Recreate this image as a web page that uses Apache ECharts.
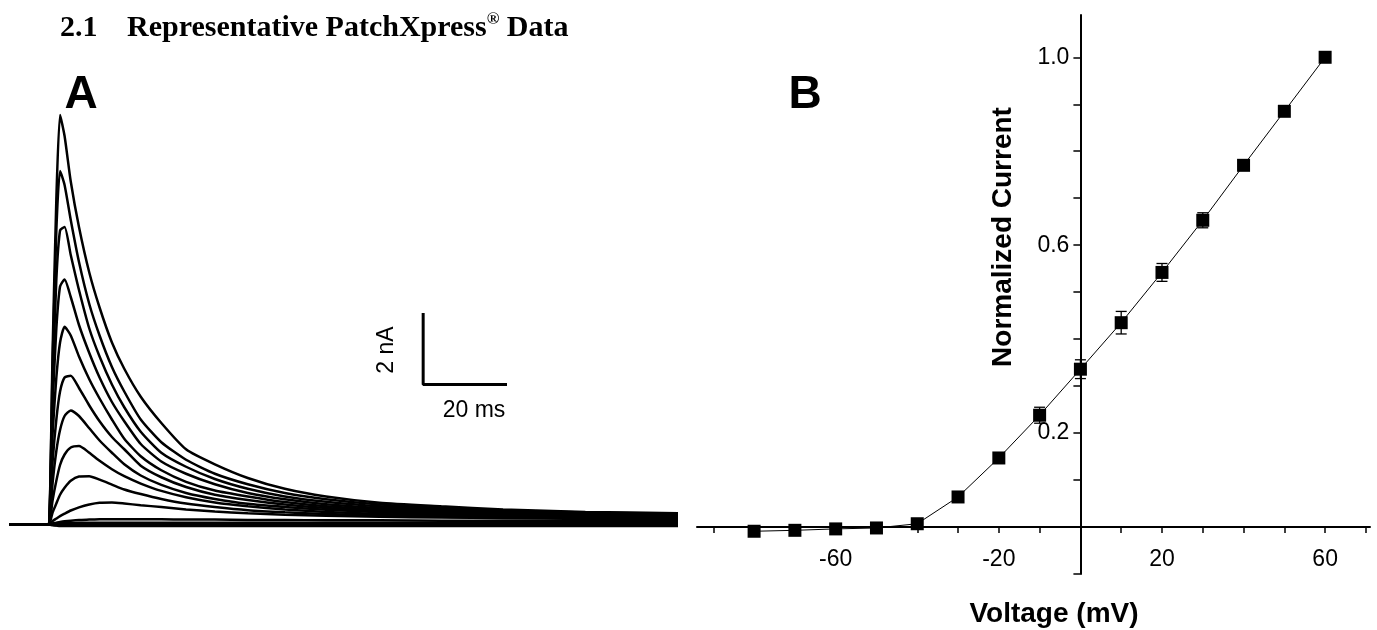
<!DOCTYPE html>
<html lang="en">
<head>
  <meta charset="UTF-8">
  <title>Representative PatchXpress Data</title>
  <script src="https://cdn.jsdelivr.net/npm/echarts@6.0.0/dist/echarts.min.js"></script>
</head>
<style>
  body { margin: 0; background: #fff; }
</style>
<body>
<div id="main" style="width: 1377px;height:630px;"></div>
<script>
  // panel A: current traces, time in ms, current in nA
  var sweepT = [0, 9.2, 9.7, 10.6, 11.5, 12.4, 13.5, 15, 17, 19.5, 22, 25, 28, 32, 37, 43, 50, 58, 67, 77, 90, 105, 120, 140, 162.5];
  var trP60 = [0, 0, 0, 5.0, 9.3, 11.7, 11.1, 9.8, 8.5, 7.2, 6.2, 5.2, 4.45, 3.65, 2.9, 2.15, 1.72, 1.33, 1.02, 0.8, 0.62, 0.52, 0.43, 0.36, 0.32];
  var trP50 = [0, 0, 0, 4.6, 8.4, 10.1, 9.7, 8.7, 7.5, 6.3, 5.4, 4.5, 3.8, 3.0, 2.35, 1.85, 1.45, 1.15, 0.9, 0.72, 0.57, 0.47, 0.4, 0.34, 0.3];
  var trP40 = [0, 0, 0, 4.0, 7.0, 8.4, 8.5, 7.7, 6.7, 5.6, 4.8, 4.0, 3.35, 2.65, 2.05, 1.65, 1.3, 1.02, 0.8, 0.65, 0.52, 0.44, 0.38, 0.32, 0.29];
  var trP30 = [0, 0, 0, 3.4, 5.6, 6.8, 7.0, 6.5, 5.7, 4.9, 4.2, 3.5, 2.95, 2.3, 1.8, 1.45, 1.15, 0.9, 0.72, 0.58, 0.47, 0.4, 0.35, 0.3, 0.27];
  var trP20 = [0, 0, 0, 2.6, 4.2, 5.2, 5.65, 5.4, 4.8, 4.15, 3.6, 3.0, 2.45, 1.95, 1.55, 1.22, 0.97, 0.8, 0.64, 0.52, 0.43, 0.37, 0.32, 0.28, 0.25];
  var trP10 = [0, 0, 0, 1.8, 3.0, 3.8, 4.2, 4.25, 3.9, 3.4, 2.95, 2.5, 2.15, 1.68, 1.35, 1.07, 0.85, 0.7, 0.57, 0.47, 0.39, 0.33, 0.29, 0.26, 0.23];
  var trP0 = [0, 0, 0, 1.2, 2.1, 2.7, 3.1, 3.26, 3.1, 2.75, 2.4, 2.05, 1.72, 1.4, 1.13, 0.9, 0.73, 0.59, 0.5, 0.42, 0.35, 0.3, 0.27, 0.24, 0.22];
  var trM10 = [0, 0, 0, 0.7, 1.25, 1.7, 2.0, 2.2, 2.24, 2.05, 1.82, 1.58, 1.38, 1.17, 0.96, 0.78, 0.63, 0.52, 0.43, 0.36, 0.3, 0.26, 0.23, 0.21, 0.2];
  var trM20 = [0, 0, 0, 0.35, 0.6, 0.85, 1.05, 1.25, 1.37, 1.38, 1.28, 1.14, 1.0, 0.87, 0.73, 0.6, 0.5, 0.41, 0.35, 0.3, 0.26, 0.22, 0.2, 0.18, 0.17];
  var trM30 = [0, 0, 0, 0.1, 0.17, 0.24, 0.31, 0.4, 0.49, 0.57, 0.62, 0.63, 0.6, 0.55, 0.5, 0.43, 0.37, 0.32, 0.28, 0.25, 0.22, 0.2, 0.18, 0.16, 0.15];
  var trM40 = [0, 0, 0, 0.03, 0.05, 0.07, 0.09, 0.11, 0.13, 0.14, 0.15, 0.15, 0.15, 0.15, 0.15, 0.14, 0.14, 0.13, 0.13, 0.12, 0.12, 0.11, 0.11, 0.1, 0.1];
  var trM50 = [0, 0, 0, 0.02, 0.03, 0.04, 0.04, 0.04, 0.05, 0.05, 0.05, 0.05, 0.05, 0.05, 0.05, 0.05, 0.05, 0.05, 0.05, 0.05, 0.05, 0.05, 0.05, 0.05, 0.05];
  var trM60 = [0, 0, 0, 0.01, 0.01, 0.01, 0.01, 0.01, 0.01, 0.01, 0.01, 0.01, 0.01, 0.01, 0.01, 0.01, 0.01, 0.01, 0.01, 0.01, 0.01, 0.01, 0.01, 0.01, 0.01];
  var trM70 = [0, 0, 0, -0.01, -0.02, -0.02, -0.02, -0.02, -0.02, -0.02, -0.02, -0.02, -0.02, -0.02, -0.02, -0.02, -0.02, -0.02, -0.02, -0.02, -0.02, -0.02, -0.02, -0.02, -0.02];
  var trM80 = [0, 0, 0, -0.02, -0.03, -0.04, -0.04, -0.04, -0.04, -0.04, -0.04, -0.04, -0.04, -0.04, -0.04, -0.04, -0.04, -0.04, -0.04, -0.04, -0.04, -0.04, -0.04, -0.04, -0.04];
  var traces = [trM80, trM70, trM60, trM50, trM40, trM30, trM20, trM10, trP0, trP10, trP20, trP30, trP40, trP50, trP60];

  // scale bar: 20 ms x 2 nA
  var scaleBar = [[120.6, 4], [100.6, 4], [100.6, 6]];

  // panel B: I-V relation
  var voltage = [-80, -70, -60, -50, -40, -30, -20, -10, 0, 10, 20, 30, 40, 50, 60];
  var normCurrent = [-0.009, -0.007, -0.004, -0.002, 0.007, 0.064, 0.147, 0.238, 0.336, 0.435, 0.542, 0.653, 0.77, 0.885, 1.0];
  var normErr = [0.004, 0.004, 0.004, 0.003, 0.004, 0.005, 0.006, 0.017, 0.02, 0.024, 0.019, 0.016, 0.006, 0.006, 0.003];
  var xTicks = [-90, -80, -70, -60, -50, -40, -30, -20, -10, 0, 10, 20, 30, 40, 50, 60, 70];
  var xLabels = [-60, -20, 20, 60];
  var yTicks = [-0.1, 0, 0.1, 0.2, 0.3, 0.4, 0.5, 0.6, 0.7, 0.8, 0.9, 1.0];
  var yLabels = [0.2, 0.6, 1.0];

  var sans = "'Liberation Sans', Arial, sans-serif";
  var serif = "'Liberation Serif', 'Times New Roman', serif";

  // grid B geometry, axes cross at (0, 0)
  var gB = {left: 697, top: 15, width: 673, height: 559};
  var vMin = -94, vMax = 71, iMin = -0.1, iMax = 1.09;
  var yAxisShift = gB.width * (0 - vMin) / (vMax - vMin);
  var xAxisShift = gB.height * (0 - iMin) / (iMax - iMin);

  var myChart = echarts.init(document.getElementById("main"));

  var series = [];
  traces.forEach(function (tr) {
    series.push({
      type: 'line',
      xAxisIndex: 0,
      yAxisIndex: 0,
      showSymbol: false,
      smooth: 0.2,
      lineStyle: {color: '#000', width: 2.5},
      data: sweepT.map(function (t, i) { return [t, tr[i]]; })
    });
  });
  series.push({
    type: 'line',
    xAxisIndex: 0,
    yAxisIndex: 0,
    showSymbol: false,
    lineStyle: {color: '#000', width: 3, cap: 'square'},
    data: scaleBar
  });
  //误差棒
  series.push({
    type: 'custom',
    xAxisIndex: 1,
    yAxisIndex: 1,
    z: 1,
    renderItem: function (params, api) {
      var lo = api.coord([api.value(0), api.value(1)]);
      var hi = api.coord([api.value(0), api.value(2)]);
      var w = 5.5;
      var st = {stroke: '#000', lineWidth: 1.3};
      return {
        type: 'group',
        children: [
          {type: 'line', shape: {x1: lo[0], y1: lo[1], x2: hi[0], y2: hi[1]}, style: st},
          {type: 'line', shape: {x1: lo[0] - w, y1: lo[1], x2: lo[0] + w, y2: lo[1]}, style: st},
          {type: 'line', shape: {x1: hi[0] - w, y1: hi[1], x2: hi[0] + w, y2: hi[1]}, style: st}
        ]
      };
    },
    data: voltage.map(function (v, i) {
      return [v, normCurrent[i] - normErr[i], normCurrent[i] + normErr[i]];
    })
  });
  series.push({
    type: 'line',
    xAxisIndex: 1,
    yAxisIndex: 1,
    z: 3,
    symbol: 'rect',
    symbolSize: 13,
    itemStyle: {color: '#000'},
    lineStyle: {color: '#000', width: 1},
    data: voltage.map(function (v, i) { return [v, normCurrent[i]]; })
  });

  myChart.setOption({
    animation: false,
    grid: [
      {left: 9, top: 104.5, width: 669, height: 437.5},
      gB
    ],
    xAxis: [
      {type: 'value', gridIndex: 0, min: 0, max: 162.5, show: false},
      {
        type: 'value', gridIndex: 1, min: vMin, max: vMax,
        position: 'bottom', offset: -xAxisShift,
        splitLine: {show: false},
        axisLine: {onZero: false, lineStyle: {color: '#000', width: 2}},
        axisTick: {customValues: xTicks, length: 6, lineStyle: {color: '#000', width: 1.5}},
        axisLabel: {
          customValues: xLabels, margin: 21, color: '#000',
          fontSize: 23, fontFamily: sans
        }
      }
    ],
    yAxis: [
      {type: 'value', gridIndex: 0, min: -0.5, max: 12, show: false},
      {
        type: 'value', gridIndex: 1, min: iMin, max: iMax,
        position: 'left', offset: -yAxisShift,
        splitLine: {show: false},
        axisLine: {onZero: false, lineStyle: {color: '#000', width: 2}},
        axisTick: {customValues: yTicks, length: 7, lineStyle: {color: '#000', width: 1.5}},
        axisLabel: {
          customValues: yLabels, margin: 11, color: '#000',
          fontSize: 23, fontFamily: sans,
          formatter: function (v) { return v.toFixed(1); }
        }
      }
    ],
    graphic: [
      {type: 'text', x: 60, y: 28, style: {text: '2.1', font: 'bold 30px ' + serif, fill: '#000', verticalAlign: 'middle'}},
      {
        type: 'text', x: 127, y: 28,
        style: {
          text: '{b|Representative PatchXpress}{s|®}{b| Data}',
          verticalAlign: 'middle',
          rich: {
            b: {font: 'bold 30px ' + serif, fill: '#000', lineHeight: 34},
            s: {font: 'bold 17px ' + serif, fill: '#000', verticalAlign: 'top', lineHeight: 34}
          }
        }
      },
      {type: 'text', x: 81, y: 95, style: {text: 'A', font: 'bold 46px ' + sans, fill: '#000', align: 'center', verticalAlign: 'middle'}},
      {type: 'text', x: 805, y: 95, style: {text: 'B', font: 'bold 46px ' + sans, fill: '#000', align: 'center', verticalAlign: 'middle'}},
      {type: 'text', x: 387, y: 350, rotation: Math.PI / 2, style: {text: '2 nA', font: '23px ' + sans, fill: '#000', align: 'center', verticalAlign: 'middle'}},
      {type: 'text', x: 474, y: 411, style: {text: '20 ms', font: '23px ' + sans, fill: '#000', align: 'center', verticalAlign: 'middle'}},
      {type: 'text', x: 1003, y: 237, rotation: Math.PI / 2, style: {text: 'Normalized Current', font: 'bold 28px ' + sans, fill: '#000', align: 'center', verticalAlign: 'middle'}},
      {type: 'text', x: 1054, y: 614, style: {text: 'Voltage (mV)', font: 'bold 28px ' + sans, fill: '#000', align: 'center', verticalAlign: 'middle'}}
    ],
    series: series
  });
</script>
</body>
</html>
